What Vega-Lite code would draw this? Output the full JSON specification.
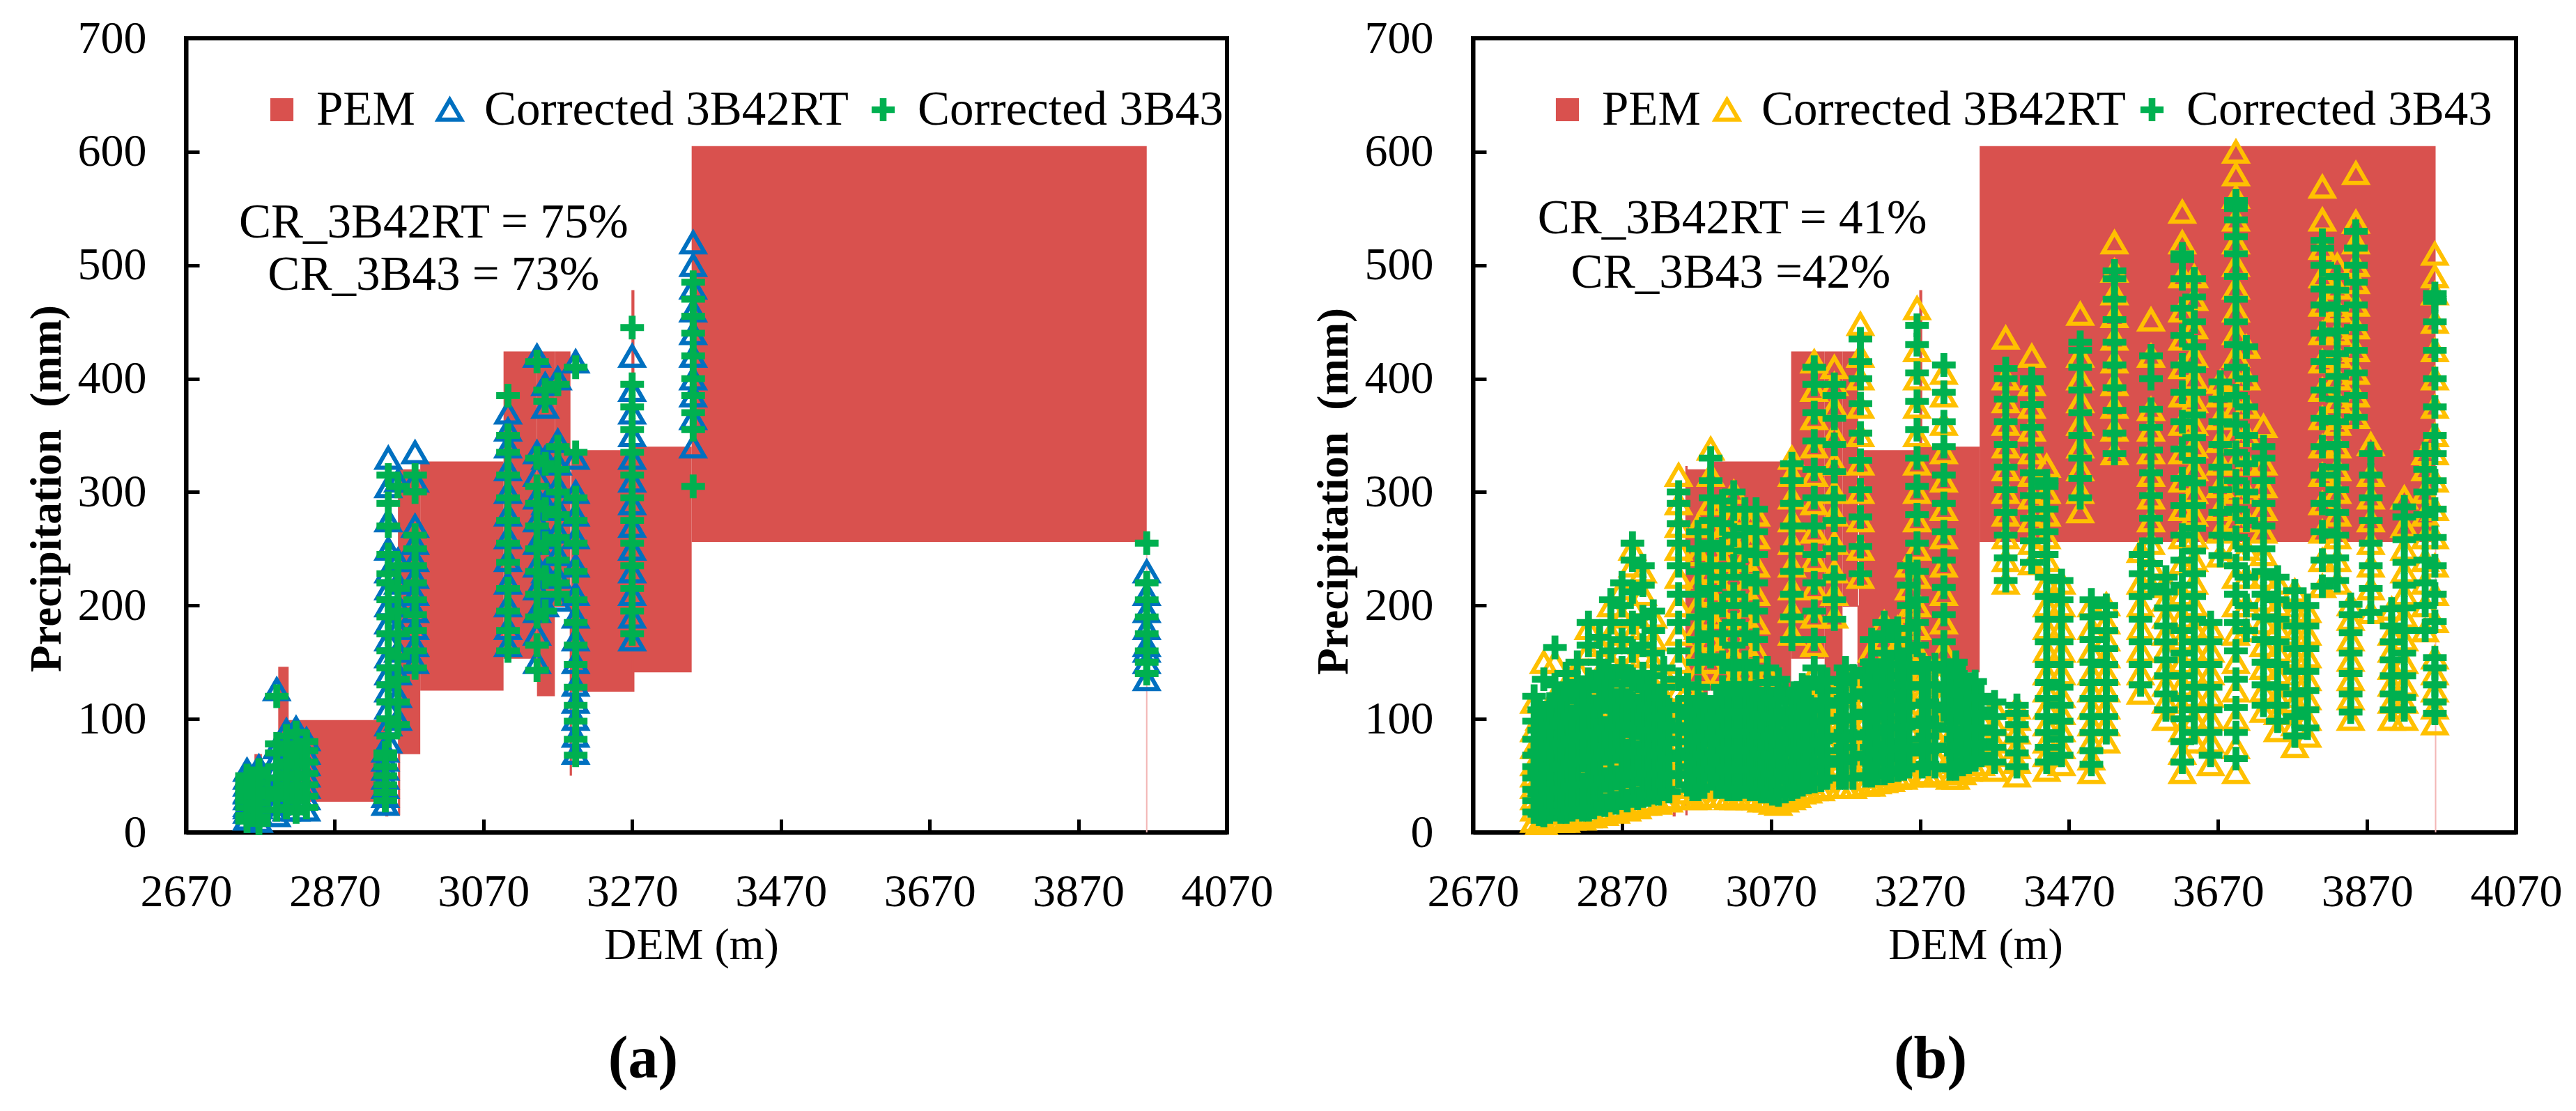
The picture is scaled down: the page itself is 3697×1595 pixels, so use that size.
{
  "$schema": "https://vega.github.io/schema/vega-lite/v6.json",
  "padding": {"left": 33, "top": 19, "right": 0, "bottom": 0},
  "background": "white",
  "spacing": 50,
  "config": {
    "font": "Liberation Serif",
    "view": {"stroke": "black", "strokeWidth": 6},
    "axis": {"grid": false, "domainColor": "black", "domainWidth": 6, "tickColor": "black", "tickWidth": 5, "tickSize": -19, "labelFont": "Liberation Serif", "labelFontSize": 66, "labelColor": "black", "labelFlush": false, "titleFont": "Liberation Serif", "titleColor": "black"},
    "axisX": {"labelPadding": 72, "titleFontSize": 64, "titleFontWeight": "normal", "titlePadding": 12},
    "axisY": {"labelPadding": 76, "titleFontSize": 63, "titleFontWeight": "bold", "titlePadding": 12},
    "legend": {
      "orient": "none", "legendY": 68, "direction": "horizontal", "title": null, "padding": 0,
      "labelFont": "Liberation Serif", "labelFontSize": 69, "labelColor": "black", "labelLimit": 2000, "labelOffset": 15,
      "symbolSize": 1100, "symbolStrokeWidth": 6, "symbolOpacity": 1
    }
  },
  "datasets": {
    "pem": [
      {"dem": 2762, "dem2": 2772, "lo": 20, "hi": 69},
      {"dem": 2794, "dem2": 2808, "lo": 25, "hi": 146},
      {"dem": 2808, "dem2": 2939, "lo": 27, "hi": 99},
      {"dem": 2938, "dem2": 2942, "lo": 14, "hi": 40},
      {"dem": 2955, "dem2": 2958, "lo": 15, "hi": 323},
      {"dem": 2957, "dem2": 2985, "lo": 69, "hi": 320},
      {"dem": 2985, "dem2": 3097, "lo": 125, "hi": 327},
      {"dem": 3097, "dem2": 3142, "lo": 153, "hi": 424},
      {"dem": 3142, "dem2": 3166, "lo": 120, "hi": 424},
      {"dem": 3166, "dem2": 3187, "lo": 199, "hi": 424},
      {"dem": 3186, "dem2": 3189, "lo": 50, "hi": 200},
      {"dem": 3188, "dem2": 3270, "lo": 124, "hi": 337},
      {"dem": 3269, "dem2": 3273, "lo": 124, "hi": 478},
      {"dem": 3272, "dem2": 3350, "lo": 141, "hi": 340},
      {"dem": 3350, "dem2": 3962, "lo": 256, "hi": 605}
    ],
    "edge": [{"dem": 3962, "lo": 0, "hi": 256}],
    "a": [
      {"dem":2752,"rt":12,"b43":10},{"dem":2752,"rt":18,"b43":15},{"dem":2752,"rt":24,"b43":22},{"dem":2752,"rt":30,"b43":28},{"dem":2752,"rt":36,"b43":33},{"dem":2752,"rt":42,"b43":40},{"dem":2752,"rt":48,"b43":45},{"dem":2752,"rt":55,"b43":50},{"dem":2752,"rt":22,"b43":28},{"dem":2752,"rt":35,"b43":38},
      {"dem":2768,"rt":10,"b43":8},{"dem":2768,"rt":16,"b43":14},{"dem":2768,"rt":22,"b43":20},{"dem":2768,"rt":28,"b43":26},{"dem":2768,"rt":34,"b43":32},{"dem":2768,"rt":40,"b43":38},{"dem":2768,"rt":46,"b43":44},{"dem":2768,"rt":52,"b43":50},{"dem":2768,"rt":58,"b43":55},
      {"dem":2792,"rt":15,"b43":20},{"dem":2792,"rt":25,"b43":30},{"dem":2792,"rt":35,"b43":38},{"dem":2792,"rt":45,"b43":48},{"dem":2792,"rt":55,"b43":58},{"dem":2792,"rt":65,"b43":70},{"dem":2792,"rt":75,"b43":78},{"dem":2792,"rt":126,"b43":120},{"dem":2792,"rt":40,"b43":35},
      {"dem":2805,"rt":20,"b43":22},{"dem":2805,"rt":30,"b43":32},{"dem":2805,"rt":40,"b43":42},{"dem":2805,"rt":50,"b43":52},{"dem":2805,"rt":60,"b43":62},{"dem":2805,"rt":70,"b43":72},{"dem":2805,"rt":80,"b43":78},{"dem":2805,"rt":90,"b43":85},
      {"dem":2818,"rt":20,"b43":18},{"dem":2818,"rt":30,"b43":28},{"dem":2818,"rt":40,"b43":38},{"dem":2818,"rt":50,"b43":48},{"dem":2818,"rt":60,"b43":58},{"dem":2818,"rt":70,"b43":68},{"dem":2818,"rt":80,"b43":76},{"dem":2818,"rt":92,"b43":88},
      {"dem":2832,"rt":20,"b43":22},{"dem":2832,"rt":30,"b43":32},{"dem":2832,"rt":40,"b43":42},{"dem":2832,"rt":50,"b43":52},{"dem":2832,"rt":60,"b43":62},{"dem":2832,"rt":70,"b43":72},{"dem":2832,"rt":82,"b43":80},
      {"dem":2938,"rt":25,"b43":28},{"dem":2938,"rt":32,"b43":35},{"dem":2938,"rt":40,"b43":42},{"dem":2938,"rt":48,"b43":50},{"dem":2938,"rt":56,"b43":58},{"dem":2938,"rt":64,"b43":66},{"dem":2938,"rt":72,"b43":70},
      {"dem":2942,"rt":80,"b43":85},{"dem":2942,"rt":95,"b43":100},{"dem":2942,"rt":110,"b43":115},{"dem":2942,"rt":125,"b43":130},{"dem":2942,"rt":140,"b43":145},{"dem":2942,"rt":155,"b43":160},{"dem":2942,"rt":170,"b43":175},{"dem":2942,"rt":185,"b43":190},{"dem":2942,"rt":200,"b43":205},{"dem":2942,"rt":215,"b43":220},{"dem":2942,"rt":230,"b43":228},{"dem":2942,"rt":250,"b43":245},{"dem":2942,"rt":275,"b43":270},{"dem":2942,"rt":305,"b43":290},{"dem":2942,"rt":330,"b43":315},
      {"dem":2955,"rt":100,"b43":95},{"dem":2955,"rt":120,"b43":115},{"dem":2955,"rt":140,"b43":135},{"dem":2955,"rt":160,"b43":155},{"dem":2955,"rt":180,"b43":175},{"dem":2955,"rt":200,"b43":195},{"dem":2955,"rt":220,"b43":215},{"dem":2955,"rt":240,"b43":235},{"dem":2955,"rt":310,"b43":305},
      {"dem":2978,"rt":150,"b43":145},{"dem":2978,"rt":165,"b43":160},{"dem":2978,"rt":180,"b43":178},{"dem":2978,"rt":195,"b43":192},{"dem":2978,"rt":210,"b43":205},{"dem":2978,"rt":225,"b43":220},{"dem":2978,"rt":240,"b43":235},{"dem":2978,"rt":255,"b43":250},{"dem":2978,"rt":270,"b43":262},{"dem":2978,"rt":310,"b43":300},{"dem":2978,"rt":335,"b43":315},
      {"dem":3103,"rt":165,"b43":160},{"dem":3103,"rt":180,"b43":178},{"dem":3103,"rt":200,"b43":195},{"dem":3103,"rt":220,"b43":215},{"dem":3103,"rt":240,"b43":238},{"dem":3103,"rt":260,"b43":255},{"dem":3103,"rt":280,"b43":275},{"dem":3103,"rt":300,"b43":295},{"dem":3103,"rt":320,"b43":315},{"dem":3103,"rt":340,"b43":335},{"dem":3103,"rt":355,"b43":350},{"dem":3103,"rt":370,"b43":385},
      {"dem":3142,"rt":150,"b43":143},{"dem":3142,"rt":175,"b43":165},{"dem":3142,"rt":195,"b43":190},{"dem":3142,"rt":215,"b43":210},{"dem":3142,"rt":235,"b43":230},{"dem":3142,"rt":255,"b43":250},{"dem":3142,"rt":275,"b43":270},{"dem":3142,"rt":295,"b43":290},{"dem":3142,"rt":315,"b43":305},{"dem":3142,"rt":335,"b43":330},{"dem":3142,"rt":420,"b43":415},
      {"dem":3153,"rt":200,"b43":195},{"dem":3153,"rt":230,"b43":225},{"dem":3153,"rt":260,"b43":255},{"dem":3153,"rt":290,"b43":285},{"dem":3153,"rt":330,"b43":325},{"dem":3153,"rt":375,"b43":380},{"dem":3153,"rt":395,"b43":390},
      {"dem":3170,"rt":205,"b43":210},{"dem":3170,"rt":225,"b43":220},{"dem":3170,"rt":245,"b43":240},{"dem":3170,"rt":265,"b43":260},{"dem":3170,"rt":285,"b43":280},{"dem":3170,"rt":305,"b43":300},{"dem":3170,"rt":325,"b43":320},{"dem":3170,"rt":345,"b43":340},{"dem":3170,"rt":400,"b43":395},
      {"dem":3194,"rt":70,"b43":68},{"dem":3194,"rt":85,"b43":82},{"dem":3194,"rt":100,"b43":98},{"dem":3194,"rt":115,"b43":112},{"dem":3194,"rt":130,"b43":128},{"dem":3194,"rt":150,"b43":148},{"dem":3194,"rt":170,"b43":165},{"dem":3194,"rt":190,"b43":185},{"dem":3194,"rt":210,"b43":205},{"dem":3194,"rt":235,"b43":230},{"dem":3194,"rt":260,"b43":255},{"dem":3194,"rt":280,"b43":275},{"dem":3194,"rt":300,"b43":295},{"dem":3194,"rt":330,"b43":335},{"dem":3194,"rt":415,"b43":410},
      {"dem":3270,"rt":170,"b43":175},{"dem":3270,"rt":190,"b43":195},{"dem":3270,"rt":210,"b43":215},{"dem":3270,"rt":230,"b43":235},{"dem":3270,"rt":250,"b43":255},{"dem":3270,"rt":270,"b43":275},{"dem":3270,"rt":290,"b43":295},{"dem":3270,"rt":310,"b43":315},{"dem":3270,"rt":330,"b43":335},{"dem":3270,"rt":350,"b43":355},{"dem":3270,"rt":370,"b43":375},{"dem":3270,"rt":390,"b43":395},{"dem":3270,"rt":420,"b43":445},
      {"dem":3352,"rt":340,"b43":305},{"dem":3352,"rt":365,"b43":355},{"dem":3352,"rt":385,"b43":370},{"dem":3352,"rt":400,"b43":385},{"dem":3352,"rt":420,"b43":400},{"dem":3352,"rt":440,"b43":420},{"dem":3352,"rt":460,"b43":440},{"dem":3352,"rt":480,"b43":455},{"dem":3352,"rt":500,"b43":470},{"dem":3352,"rt":520,"b43":485},
      {"dem":3962,"rt":135,"b43":140},{"dem":3962,"rt":150,"b43":150},{"dem":3962,"rt":165,"b43":160},{"dem":3962,"rt":180,"b43":175},{"dem":3962,"rt":195,"b43":190},{"dem":3962,"rt":210,"b43":205},{"dem":3962,"rt":230,"b43":220},{"dem":3962,"rt":160,"b43":255}
    ],
    "b": [
      {"dem":2752,"rt":10,"b43":18},{"dem":2752,"rt":20,"b43":28},{"dem":2752,"rt":30,"b43":38},{"dem":2752,"rt":40,"b43":48},{"dem":2752,"rt":50,"b43":58},{"dem":2752,"rt":60,"b43":68},{"dem":2752,"rt":75,"b43":82},{"dem":2752,"rt":90,"b43":98},{"dem":2752,"rt":115,"b43":120},
      {"dem":2765,"rt":8,"b43":15},{"dem":2765,"rt":18,"b43":25},{"dem":2765,"rt":28,"b43":35},{"dem":2765,"rt":38,"b43":45},{"dem":2765,"rt":48,"b43":55},{"dem":2765,"rt":60,"b43":66},{"dem":2765,"rt":72,"b43":80},{"dem":2765,"rt":85,"b43":95},{"dem":2765,"rt":150,"b43":135},
      {"dem":2780,"rt":12,"b43":20},{"dem":2780,"rt":22,"b43":30},{"dem":2780,"rt":32,"b43":40},{"dem":2780,"rt":42,"b43":50},{"dem":2780,"rt":55,"b43":62},{"dem":2780,"rt":68,"b43":75},{"dem":2780,"rt":82,"b43":90},{"dem":2780,"rt":100,"b43":110},{"dem":2780,"rt":120,"b43":130},{"dem":2780,"rt":150,"b43":163},
      {"dem":2795,"rt":10,"b43":18},{"dem":2795,"rt":22,"b43":30},{"dem":2795,"rt":34,"b43":42},{"dem":2795,"rt":46,"b43":54},{"dem":2795,"rt":58,"b43":66},{"dem":2795,"rt":70,"b43":78},{"dem":2795,"rt":85,"b43":92},{"dem":2795,"rt":100,"b43":108},{"dem":2795,"rt":115,"b43":122},{"dem":2795,"rt":130,"b43":140},
      {"dem":2810,"rt":15,"b43":22},{"dem":2810,"rt":25,"b43":32},{"dem":2810,"rt":35,"b43":45},{"dem":2810,"rt":50,"b43":58},{"dem":2810,"rt":65,"b43":72},{"dem":2810,"rt":80,"b43":88},{"dem":2810,"rt":95,"b43":102},{"dem":2810,"rt":110,"b43":118},{"dem":2810,"rt":125,"b43":132},{"dem":2810,"rt":145,"b43":150},
      {"dem":2825,"rt":14,"b43":20},{"dem":2825,"rt":26,"b43":32},{"dem":2825,"rt":38,"b43":44},{"dem":2825,"rt":50,"b43":56},{"dem":2825,"rt":62,"b43":70},{"dem":2825,"rt":76,"b43":84},{"dem":2825,"rt":90,"b43":98},{"dem":2825,"rt":105,"b43":115},{"dem":2825,"rt":125,"b43":135},{"dem":2825,"rt":160,"b43":165},{"dem":2825,"rt":180,"b43":185},
      {"dem":2840,"rt":18,"b43":25},{"dem":2840,"rt":30,"b43":38},{"dem":2840,"rt":42,"b43":50},{"dem":2840,"rt":55,"b43":62},{"dem":2840,"rt":70,"b43":78},{"dem":2840,"rt":85,"b43":92},{"dem":2840,"rt":100,"b43":108},{"dem":2840,"rt":120,"b43":128},{"dem":2840,"rt":140,"b43":150},{"dem":2840,"rt":165,"b43":172},
      {"dem":2855,"rt":20,"b43":28},{"dem":2855,"rt":32,"b43":40},{"dem":2855,"rt":45,"b43":52},{"dem":2855,"rt":60,"b43":68},{"dem":2855,"rt":75,"b43":82},{"dem":2855,"rt":90,"b43":98},{"dem":2855,"rt":110,"b43":118},{"dem":2855,"rt":130,"b43":138},{"dem":2855,"rt":150,"b43":160},{"dem":2855,"rt":175,"b43":185},{"dem":2855,"rt":200,"b43":205},
      {"dem":2870,"rt":22,"b43":30},{"dem":2870,"rt":35,"b43":42},{"dem":2870,"rt":48,"b43":56},{"dem":2870,"rt":62,"b43":70},{"dem":2870,"rt":78,"b43":86},{"dem":2870,"rt":95,"b43":104},{"dem":2870,"rt":115,"b43":124},{"dem":2870,"rt":135,"b43":145},{"dem":2870,"rt":160,"b43":170},{"dem":2870,"rt":190,"b43":200},{"dem":2870,"rt":215,"b43":220},
      {"dem":2884,"rt":25,"b43":32},{"dem":2884,"rt":38,"b43":45},{"dem":2884,"rt":52,"b43":60},{"dem":2884,"rt":68,"b43":76},{"dem":2884,"rt":85,"b43":94},{"dem":2884,"rt":105,"b43":114},{"dem":2884,"rt":125,"b43":135},{"dem":2884,"rt":150,"b43":160},{"dem":2884,"rt":175,"b43":185},{"dem":2884,"rt":200,"b43":212},{"dem":2884,"rt":235,"b43":240},{"dem":2884,"rt":250,"b43":255},
      {"dem":2898,"rt":25,"b43":32},{"dem":2898,"rt":40,"b43":48},{"dem":2898,"rt":55,"b43":62},{"dem":2898,"rt":70,"b43":78},{"dem":2898,"rt":88,"b43":96},{"dem":2898,"rt":108,"b43":116},{"dem":2898,"rt":130,"b43":140},{"dem":2898,"rt":155,"b43":165},{"dem":2898,"rt":180,"b43":190},{"dem":2898,"rt":210,"b43":218},{"dem":2898,"rt":230,"b43":235},
      {"dem":2912,"rt":28,"b43":35},{"dem":2912,"rt":42,"b43":50},{"dem":2912,"rt":58,"b43":66},{"dem":2912,"rt":75,"b43":82},{"dem":2912,"rt":92,"b43":100},{"dem":2912,"rt":110,"b43":118},{"dem":2912,"rt":130,"b43":138},{"dem":2912,"rt":150,"b43":158},{"dem":2912,"rt":170,"b43":178},{"dem":2912,"rt":190,"b43":195},
      {"dem":2926,"rt":30,"b43":38},{"dem":2926,"rt":45,"b43":52},{"dem":2926,"rt":60,"b43":68},{"dem":2926,"rt":75,"b43":82},{"dem":2926,"rt":90,"b43":98},{"dem":2926,"rt":105,"b43":112},{"dem":2926,"rt":120,"b43":128},{"dem":2926,"rt":140,"b43":145},
      {"dem":2946,"rt":40,"b43":50},{"dem":2946,"rt":60,"b43":70},{"dem":2946,"rt":80,"b43":90},{"dem":2946,"rt":100,"b43":110},{"dem":2946,"rt":125,"b43":135},{"dem":2946,"rt":150,"b43":160},{"dem":2946,"rt":175,"b43":185},{"dem":2946,"rt":200,"b43":210},{"dem":2946,"rt":225,"b43":235},{"dem":2946,"rt":250,"b43":255},{"dem":2946,"rt":270,"b43":272},{"dem":2946,"rt":290,"b43":290},{"dem":2946,"rt":315,"b43":300},
      {"dem":2958,"rt":35,"b43":42},{"dem":2958,"rt":50,"b43":58},{"dem":2958,"rt":65,"b43":72},{"dem":2958,"rt":80,"b43":88},{"dem":2958,"rt":95,"b43":102},{"dem":2958,"rt":110,"b43":118},{"dem":2958,"rt":125,"b43":130},
      {"dem":2972,"rt":30,"b43":38},{"dem":2972,"rt":45,"b43":52},{"dem":2972,"rt":60,"b43":68},{"dem":2972,"rt":75,"b43":82},{"dem":2972,"rt":90,"b43":98},{"dem":2972,"rt":105,"b43":112},{"dem":2972,"rt":120,"b43":128},{"dem":2972,"rt":140,"b43":150},{"dem":2972,"rt":160,"b43":170},{"dem":2972,"rt":180,"b43":190},{"dem":2972,"rt":200,"b43":210},{"dem":2972,"rt":220,"b43":230},{"dem":2972,"rt":245,"b43":250},{"dem":2972,"rt":270,"b43":265},
      {"dem":2989,"rt":40,"b43":48},{"dem":2989,"rt":55,"b43":62},{"dem":2989,"rt":70,"b43":78},{"dem":2989,"rt":85,"b43":92},{"dem":2989,"rt":100,"b43":108},{"dem":2989,"rt":150,"b43":155},{"dem":2989,"rt":170,"b43":175},{"dem":2989,"rt":190,"b43":195},{"dem":2989,"rt":210,"b43":215},{"dem":2989,"rt":230,"b43":235},{"dem":2989,"rt":250,"b43":255},{"dem":2989,"rt":270,"b43":275},{"dem":2989,"rt":290,"b43":295},{"dem":2989,"rt":315,"b43":310},{"dem":2989,"rt":338,"b43":330},
      {"dem":3005,"rt":32,"b43":40},{"dem":3005,"rt":45,"b43":52},{"dem":3005,"rt":60,"b43":68},{"dem":3005,"rt":75,"b43":82},{"dem":3005,"rt":90,"b43":98},{"dem":3005,"rt":105,"b43":112},{"dem":3005,"rt":120,"b43":128},{"dem":3005,"rt":140,"b43":150},{"dem":3005,"rt":165,"b43":175},{"dem":3005,"rt":190,"b43":200},{"dem":3005,"rt":215,"b43":225},{"dem":3005,"rt":240,"b43":250},{"dem":3005,"rt":265,"b43":272},{"dem":3005,"rt":290,"b43":292},
      {"dem":3020,"rt":30,"b43":38},{"dem":3020,"rt":42,"b43":50},{"dem":3020,"rt":56,"b43":64},{"dem":3020,"rt":70,"b43":78},{"dem":3020,"rt":85,"b43":92},{"dem":3020,"rt":100,"b43":108},{"dem":3020,"rt":118,"b43":126},{"dem":3020,"rt":135,"b43":145},{"dem":3020,"rt":155,"b43":165},{"dem":3020,"rt":175,"b43":185},{"dem":3020,"rt":200,"b43":210},{"dem":3020,"rt":225,"b43":235},{"dem":3020,"rt":255,"b43":262},{"dem":3020,"rt":280,"b43":285},{"dem":3020,"rt":300,"b43":300},
      {"dem":3035,"rt":32,"b43":40},{"dem":3035,"rt":45,"b43":52},{"dem":3035,"rt":58,"b43":66},{"dem":3035,"rt":72,"b43":80},{"dem":3035,"rt":88,"b43":96},{"dem":3035,"rt":104,"b43":112},{"dem":3035,"rt":120,"b43":130},{"dem":3035,"rt":140,"b43":150},{"dem":3035,"rt":165,"b43":175},{"dem":3035,"rt":190,"b43":200},{"dem":3035,"rt":215,"b43":225},{"dem":3035,"rt":240,"b43":248},{"dem":3035,"rt":260,"b43":268},{"dem":3035,"rt":280,"b43":285},
      {"dem":3050,"rt":30,"b43":38},{"dem":3050,"rt":42,"b43":50},{"dem":3050,"rt":55,"b43":62},{"dem":3050,"rt":70,"b43":78},{"dem":3050,"rt":85,"b43":92},{"dem":3050,"rt":100,"b43":108},{"dem":3050,"rt":115,"b43":124},{"dem":3050,"rt":135,"b43":145},{"dem":3050,"rt":160,"b43":170},{"dem":3050,"rt":185,"b43":195},{"dem":3050,"rt":210,"b43":220},{"dem":3050,"rt":235,"b43":245},{"dem":3050,"rt":260,"b43":265},{"dem":3050,"rt":280,"b43":285},
      {"dem":3065,"rt":28,"b43":36},{"dem":3065,"rt":40,"b43":48},{"dem":3065,"rt":52,"b43":60},{"dem":3065,"rt":65,"b43":74},{"dem":3065,"rt":80,"b43":88},{"dem":3065,"rt":95,"b43":102},{"dem":3065,"rt":110,"b43":118},{"dem":3065,"rt":125,"b43":132},{"dem":3065,"rt":140,"b43":145},
      {"dem":3080,"rt":25,"b43":33},{"dem":3080,"rt":38,"b43":46},{"dem":3080,"rt":50,"b43":58},{"dem":3080,"rt":62,"b43":70},{"dem":3080,"rt":75,"b43":84},{"dem":3080,"rt":88,"b43":96},{"dem":3080,"rt":100,"b43":108},{"dem":3080,"rt":115,"b43":122},{"dem":3080,"rt":130,"b43":135},
      {"dem":3098,"rt":30,"b43":38},{"dem":3098,"rt":42,"b43":50},{"dem":3098,"rt":55,"b43":62},{"dem":3098,"rt":68,"b43":76},{"dem":3098,"rt":80,"b43":88},{"dem":3098,"rt":95,"b43":102},{"dem":3098,"rt":110,"b43":118},{"dem":3098,"rt":175,"b43":170},{"dem":3098,"rt":195,"b43":190},{"dem":3098,"rt":215,"b43":210},{"dem":3098,"rt":235,"b43":230},{"dem":3098,"rt":255,"b43":250},{"dem":3098,"rt":275,"b43":270},{"dem":3098,"rt":295,"b43":290},{"dem":3098,"rt":315,"b43":310},{"dem":3098,"rt":330,"b43":325},
      {"dem":3112,"rt":35,"b43":42},{"dem":3112,"rt":48,"b43":55},{"dem":3112,"rt":60,"b43":68},{"dem":3112,"rt":72,"b43":80},{"dem":3112,"rt":85,"b43":92},{"dem":3112,"rt":98,"b43":105},{"dem":3112,"rt":110,"b43":118},{"dem":3112,"rt":125,"b43":130},
      {"dem":3128,"rt":38,"b43":45},{"dem":3128,"rt":50,"b43":58},{"dem":3128,"rt":62,"b43":70},{"dem":3128,"rt":75,"b43":82},{"dem":3128,"rt":88,"b43":95},{"dem":3128,"rt":100,"b43":108},{"dem":3128,"rt":140,"b43":145},{"dem":3128,"rt":165,"b43":170},{"dem":3128,"rt":190,"b43":195},{"dem":3128,"rt":215,"b43":220},{"dem":3128,"rt":240,"b43":245},{"dem":3128,"rt":265,"b43":270},{"dem":3128,"rt":290,"b43":295},{"dem":3128,"rt":315,"b43":320},{"dem":3128,"rt":340,"b43":345},{"dem":3128,"rt":365,"b43":370},{"dem":3128,"rt":390,"b43":395},{"dem":3128,"rt":415,"b43":410},
      {"dem":3145,"rt":40,"b43":48},{"dem":3145,"rt":52,"b43":60},{"dem":3145,"rt":65,"b43":72},{"dem":3145,"rt":78,"b43":85},{"dem":3145,"rt":90,"b43":98},{"dem":3145,"rt":105,"b43":112},{"dem":3145,"rt":120,"b43":125},{"dem":3145,"rt":130,"b43":135},
      {"dem":3155,"rt":190,"b43":188},{"dem":3155,"rt":210,"b43":205},{"dem":3155,"rt":230,"b43":225},{"dem":3155,"rt":255,"b43":250},{"dem":3155,"rt":280,"b43":275},{"dem":3155,"rt":300,"b43":295},{"dem":3155,"rt":325,"b43":318},{"dem":3155,"rt":350,"b43":342},{"dem":3155,"rt":375,"b43":365},{"dem":3155,"rt":395,"b43":385},{"dem":3155,"rt":410,"b43":395},
      {"dem":3170,"rt":40,"b43":48},{"dem":3170,"rt":55,"b43":62},{"dem":3170,"rt":68,"b43":75},{"dem":3170,"rt":80,"b43":88},{"dem":3170,"rt":95,"b43":102},{"dem":3170,"rt":110,"b43":118},{"dem":3170,"rt":125,"b43":132},{"dem":3170,"rt":140,"b43":145},
      {"dem":3190,"rt":225,"b43":228},{"dem":3190,"rt":250,"b43":252},{"dem":3190,"rt":275,"b43":278},{"dem":3190,"rt":300,"b43":302},{"dem":3190,"rt":325,"b43":328},{"dem":3190,"rt":350,"b43":352},{"dem":3190,"rt":375,"b43":378},{"dem":3190,"rt":400,"b43":400},{"dem":3190,"rt":420,"b43":415},{"dem":3190,"rt":448,"b43":435},
      {"dem":3205,"rt":42,"b43":50},{"dem":3205,"rt":55,"b43":62},{"dem":3205,"rt":68,"b43":75},{"dem":3205,"rt":80,"b43":88},{"dem":3205,"rt":95,"b43":102},{"dem":3205,"rt":110,"b43":118},{"dem":3205,"rt":125,"b43":132},{"dem":3205,"rt":140,"b43":150},{"dem":3205,"rt":160,"b43":170},
      {"dem":3222,"rt":45,"b43":52},{"dem":3222,"rt":58,"b43":65},{"dem":3222,"rt":70,"b43":78},{"dem":3222,"rt":85,"b43":92},{"dem":3222,"rt":100,"b43":108},{"dem":3222,"rt":115,"b43":122},{"dem":3222,"rt":130,"b43":138},{"dem":3222,"rt":150,"b43":158},{"dem":3222,"rt":170,"b43":175},{"dem":3222,"rt":185,"b43":185},
      {"dem":3240,"rt":48,"b43":55},{"dem":3240,"rt":60,"b43":68},{"dem":3240,"rt":72,"b43":80},{"dem":3240,"rt":85,"b43":92},{"dem":3240,"rt":100,"b43":108},{"dem":3240,"rt":115,"b43":122},{"dem":3240,"rt":130,"b43":138},{"dem":3240,"rt":150,"b43":155},{"dem":3240,"rt":165,"b43":170},{"dem":3240,"rt":180,"b43":180},
      {"dem":3255,"rt":50,"b43":58},{"dem":3255,"rt":62,"b43":70},{"dem":3255,"rt":75,"b43":82},{"dem":3255,"rt":90,"b43":98},{"dem":3255,"rt":105,"b43":112},{"dem":3255,"rt":120,"b43":128},{"dem":3255,"rt":135,"b43":142},{"dem":3255,"rt":155,"b43":160},{"dem":3255,"rt":175,"b43":180},{"dem":3255,"rt":195,"b43":200},{"dem":3255,"rt":215,"b43":218},{"dem":3255,"rt":235,"b43":235},
      {"dem":3266,"rt":160,"b43":165},{"dem":3266,"rt":180,"b43":185},{"dem":3266,"rt":200,"b43":205},{"dem":3266,"rt":225,"b43":230},{"dem":3266,"rt":250,"b43":255},{"dem":3266,"rt":275,"b43":280},{"dem":3266,"rt":300,"b43":305},{"dem":3266,"rt":325,"b43":330},{"dem":3266,"rt":350,"b43":355},{"dem":3266,"rt":375,"b43":380},{"dem":3266,"rt":400,"b43":405},{"dem":3266,"rt":425,"b43":430},{"dem":3266,"rt":462,"b43":447},
      {"dem":3280,"rt":52,"b43":60},{"dem":3280,"rt":65,"b43":72},{"dem":3280,"rt":78,"b43":85},{"dem":3280,"rt":92,"b43":100},{"dem":3280,"rt":108,"b43":115},{"dem":3280,"rt":122,"b43":130},{"dem":3280,"rt":140,"b43":145},
      {"dem":3302,"rt":100,"b43":108},{"dem":3302,"rt":120,"b43":128},{"dem":3302,"rt":140,"b43":148},{"dem":3302,"rt":160,"b43":168},{"dem":3302,"rt":185,"b43":192},{"dem":3302,"rt":210,"b43":216},{"dem":3302,"rt":235,"b43":240},{"dem":3302,"rt":260,"b43":265},{"dem":3302,"rt":285,"b43":290},{"dem":3302,"rt":310,"b43":315},{"dem":3302,"rt":335,"b43":340},{"dem":3302,"rt":360,"b43":362},{"dem":3302,"rt":385,"b43":388},{"dem":3302,"rt":405,"b43":412},
      {"dem":3318,"rt":48,"b43":56},{"dem":3318,"rt":62,"b43":70},{"dem":3318,"rt":75,"b43":82},{"dem":3318,"rt":90,"b43":98},{"dem":3318,"rt":105,"b43":112},{"dem":3318,"rt":120,"b43":128},{"dem":3318,"rt":135,"b43":140},{"dem":3318,"rt":145,"b43":150},
      {"dem":3335,"rt":55,"b43":62},{"dem":3335,"rt":68,"b43":75},{"dem":3335,"rt":80,"b43":88},{"dem":3335,"rt":95,"b43":102},{"dem":3335,"rt":110,"b43":118},{"dem":3335,"rt":125,"b43":130},
      {"dem":3352,"rt":60,"b43":68},{"dem":3352,"rt":72,"b43":80},{"dem":3352,"rt":85,"b43":92},{"dem":3352,"rt":100,"b43":108},{"dem":3352,"rt":115,"b43":120},
      {"dem":3370,"rt":55,"b43":62},{"dem":3370,"rt":68,"b43":75},{"dem":3370,"rt":80,"b43":88},{"dem":3370,"rt":95,"b43":102},{"dem":3370,"rt":110,"b43":115},
      {"dem":3385,"rt":220,"b43":222},{"dem":3385,"rt":240,"b43":242},{"dem":3385,"rt":260,"b43":262},{"dem":3385,"rt":280,"b43":282},{"dem":3385,"rt":300,"b43":302},{"dem":3385,"rt":320,"b43":322},{"dem":3385,"rt":340,"b43":342},{"dem":3385,"rt":360,"b43":362},{"dem":3385,"rt":380,"b43":382},{"dem":3385,"rt":400,"b43":400},{"dem":3385,"rt":436,"b43":409},
      {"dem":3400,"rt":50,"b43":58},{"dem":3400,"rt":62,"b43":70},{"dem":3400,"rt":75,"b43":82},{"dem":3400,"rt":88,"b43":95},{"dem":3400,"rt":100,"b43":105},{"dem":3400,"rt":110,"b43":112},
      {"dem":3420,"rt":237,"b43":238},{"dem":3420,"rt":255,"b43":257},{"dem":3420,"rt":275,"b43":277},{"dem":3420,"rt":295,"b43":297},{"dem":3420,"rt":315,"b43":317},{"dem":3420,"rt":335,"b43":337},{"dem":3420,"rt":355,"b43":357},{"dem":3420,"rt":375,"b43":377},{"dem":3420,"rt":395,"b43":397},{"dem":3420,"rt":420,"b43":400},
      {"dem":3440,"rt":55,"b43":62},{"dem":3440,"rt":68,"b43":75},{"dem":3440,"rt":80,"b43":88},{"dem":3440,"rt":95,"b43":102},{"dem":3440,"rt":110,"b43":118},{"dem":3440,"rt":125,"b43":132},{"dem":3440,"rt":140,"b43":148},{"dem":3440,"rt":160,"b43":168},{"dem":3440,"rt":180,"b43":188},{"dem":3440,"rt":200,"b43":208},{"dem":3440,"rt":220,"b43":225},{"dem":3440,"rt":240,"b43":245},{"dem":3440,"rt":260,"b43":265},{"dem":3440,"rt":280,"b43":285},{"dem":3440,"rt":300,"b43":305},{"dem":3440,"rt":323,"b43":310},
      {"dem":3460,"rt":60,"b43":68},{"dem":3460,"rt":75,"b43":82},{"dem":3460,"rt":90,"b43":98},{"dem":3460,"rt":105,"b43":112},{"dem":3460,"rt":120,"b43":128},{"dem":3460,"rt":140,"b43":148},{"dem":3460,"rt":160,"b43":168},{"dem":3460,"rt":180,"b43":188},{"dem":3460,"rt":200,"b43":205},{"dem":3460,"rt":220,"b43":222},
      {"dem":3485,"rt":283,"b43":295},{"dem":3485,"rt":300,"b43":312},{"dem":3485,"rt":320,"b43":330},{"dem":3485,"rt":340,"b43":350},{"dem":3485,"rt":360,"b43":370},{"dem":3485,"rt":380,"b43":390},{"dem":3485,"rt":400,"b43":410},{"dem":3485,"rt":420,"b43":425},{"dem":3485,"rt":457,"b43":432},
      {"dem":3500,"rt":53,"b43":60},{"dem":3500,"rt":65,"b43":72},{"dem":3500,"rt":80,"b43":88},{"dem":3500,"rt":95,"b43":102},{"dem":3500,"rt":110,"b43":118},{"dem":3500,"rt":125,"b43":132},{"dem":3500,"rt":140,"b43":150},{"dem":3500,"rt":160,"b43":170},{"dem":3500,"rt":180,"b43":190},{"dem":3500,"rt":200,"b43":205},
      {"dem":3520,"rt":80,"b43":88},{"dem":3520,"rt":95,"b43":102},{"dem":3520,"rt":110,"b43":118},{"dem":3520,"rt":125,"b43":132},{"dem":3520,"rt":140,"b43":148},{"dem":3520,"rt":155,"b43":162},{"dem":3520,"rt":170,"b43":178},{"dem":3520,"rt":185,"b43":192},{"dem":3520,"rt":201,"b43":200},
      {"dem":3531,"rt":334,"b43":334},{"dem":3531,"rt":355,"b43":352},{"dem":3531,"rt":375,"b43":372},{"dem":3531,"rt":395,"b43":392},{"dem":3531,"rt":415,"b43":412},{"dem":3531,"rt":435,"b43":432},{"dem":3531,"rt":455,"b43":452},{"dem":3531,"rt":475,"b43":470},{"dem":3531,"rt":495,"b43":488},{"dem":3531,"rt":520,"b43":495},
      {"dem":3566,"rt":123,"b43":130},{"dem":3566,"rt":140,"b43":148},{"dem":3566,"rt":160,"b43":168},{"dem":3566,"rt":180,"b43":188},{"dem":3566,"rt":200,"b43":208},{"dem":3566,"rt":220,"b43":228},{"dem":3566,"rt":248,"b43":245},
      {"dem":3580,"rt":217,"b43":217},{"dem":3580,"rt":235,"b43":237},{"dem":3580,"rt":255,"b43":257},{"dem":3580,"rt":275,"b43":277},{"dem":3580,"rt":295,"b43":297},{"dem":3580,"rt":315,"b43":317},{"dem":3580,"rt":335,"b43":337},{"dem":3580,"rt":355,"b43":357},{"dem":3580,"rt":373,"b43":373},{"dem":3580,"rt":420,"b43":400},{"dem":3580,"rt":452,"b43":420},
      {"dem":3600,"rt":100,"b43":108},{"dem":3600,"rt":115,"b43":122},{"dem":3600,"rt":130,"b43":138},{"dem":3600,"rt":145,"b43":152},{"dem":3600,"rt":160,"b43":168},{"dem":3600,"rt":175,"b43":182},{"dem":3600,"rt":190,"b43":198},{"dem":3600,"rt":205,"b43":212},{"dem":3600,"rt":220,"b43":225},
      {"dem":3622,"rt":53,"b43":62},{"dem":3622,"rt":70,"b43":80},{"dem":3622,"rt":90,"b43":100},{"dem":3622,"rt":110,"b43":118},{"dem":3622,"rt":130,"b43":138},{"dem":3622,"rt":150,"b43":158},{"dem":3622,"rt":170,"b43":178},{"dem":3622,"rt":190,"b43":198},{"dem":3622,"rt":210,"b43":218},{"dem":3622,"rt":237,"b43":240},{"dem":3622,"rt":260,"b43":262},{"dem":3622,"rt":285,"b43":288},{"dem":3622,"rt":310,"b43":312},{"dem":3622,"rt":335,"b43":338},{"dem":3622,"rt":360,"b43":362},{"dem":3622,"rt":385,"b43":388},{"dem":3622,"rt":410,"b43":412},{"dem":3622,"rt":435,"b43":438},{"dem":3622,"rt":460,"b43":462},{"dem":3622,"rt":490,"b43":488},{"dem":3622,"rt":520,"b43":505},{"dem":3622,"rt":547,"b43":510},
      {"dem":3638,"rt":80,"b43":88},{"dem":3638,"rt":100,"b43":108},{"dem":3638,"rt":120,"b43":128},{"dem":3638,"rt":140,"b43":148},{"dem":3638,"rt":160,"b43":168},{"dem":3638,"rt":180,"b43":188},{"dem":3638,"rt":200,"b43":208},{"dem":3638,"rt":220,"b43":228},{"dem":3638,"rt":240,"b43":248},{"dem":3638,"rt":260,"b43":268},{"dem":3638,"rt":280,"b43":288},{"dem":3638,"rt":300,"b43":308},{"dem":3638,"rt":320,"b43":328},{"dem":3638,"rt":340,"b43":348},{"dem":3638,"rt":360,"b43":368},{"dem":3638,"rt":380,"b43":388},{"dem":3638,"rt":400,"b43":408},{"dem":3638,"rt":420,"b43":428},{"dem":3638,"rt":445,"b43":450},{"dem":3638,"rt":470,"b43":472},{"dem":3638,"rt":490,"b43":488},
      {"dem":3660,"rt":60,"b43":68},{"dem":3660,"rt":80,"b43":88},{"dem":3660,"rt":100,"b43":108},{"dem":3660,"rt":120,"b43":128},{"dem":3660,"rt":140,"b43":148},{"dem":3660,"rt":160,"b43":168},{"dem":3660,"rt":180,"b43":185},
      {"dem":3673,"rt":244,"b43":244},{"dem":3673,"rt":265,"b43":262},{"dem":3673,"rt":285,"b43":282},{"dem":3673,"rt":305,"b43":302},{"dem":3673,"rt":325,"b43":322},{"dem":3673,"rt":345,"b43":342},{"dem":3673,"rt":365,"b43":362},{"dem":3673,"rt":385,"b43":382},{"dem":3673,"rt":397,"b43":397},
      {"dem":3694,"rt":53,"b43":65},{"dem":3694,"rt":75,"b43":88},{"dem":3694,"rt":100,"b43":110},{"dem":3694,"rt":125,"b43":135},{"dem":3694,"rt":150,"b43":160},{"dem":3694,"rt":175,"b43":185},{"dem":3694,"rt":200,"b43":210},{"dem":3694,"rt":225,"b43":235},{"dem":3694,"rt":250,"b43":260},{"dem":3694,"rt":275,"b43":285},{"dem":3694,"rt":300,"b43":310},{"dem":3694,"rt":325,"b43":335},{"dem":3694,"rt":350,"b43":360},{"dem":3694,"rt":375,"b43":385},{"dem":3694,"rt":400,"b43":410},{"dem":3694,"rt":420,"b43":430},{"dem":3694,"rt":440,"b43":450},{"dem":3694,"rt":460,"b43":470},{"dem":3694,"rt":480,"b43":490},{"dem":3694,"rt":500,"b43":510},{"dem":3694,"rt":520,"b43":525},{"dem":3694,"rt":540,"b43":540},{"dem":3694,"rt":560,"b43":550},{"dem":3694,"rt":580,"b43":557},{"dem":3694,"rt":600,"b43":555},
      {"dem":3708,"rt":178,"b43":178},{"dem":3708,"rt":200,"b43":200},{"dem":3708,"rt":225,"b43":225},{"dem":3708,"rt":250,"b43":250},{"dem":3708,"rt":275,"b43":275},{"dem":3708,"rt":300,"b43":300},{"dem":3708,"rt":325,"b43":325},{"dem":3708,"rt":350,"b43":350},{"dem":3708,"rt":375,"b43":375},{"dem":3708,"rt":400,"b43":400},{"dem":3708,"rt":428,"b43":428},
      {"dem":3731,"rt":107,"b43":112},{"dem":3731,"rt":125,"b43":130},{"dem":3731,"rt":145,"b43":150},{"dem":3731,"rt":165,"b43":170},{"dem":3731,"rt":185,"b43":190},{"dem":3731,"rt":205,"b43":210},{"dem":3731,"rt":225,"b43":230},{"dem":3731,"rt":245,"b43":250},{"dem":3731,"rt":265,"b43":270},{"dem":3731,"rt":285,"b43":290},{"dem":3731,"rt":305,"b43":310},{"dem":3731,"rt":325,"b43":330},{"dem":3731,"rt":358,"b43":340},
      {"dem":3750,"rt":90,"b43":98},{"dem":3750,"rt":105,"b43":112},{"dem":3750,"rt":120,"b43":128},{"dem":3750,"rt":140,"b43":148},{"dem":3750,"rt":160,"b43":168},{"dem":3750,"rt":180,"b43":188},{"dem":3750,"rt":200,"b43":205},{"dem":3750,"rt":220,"b43":225},
      {"dem":3773,"rt":76,"b43":85},{"dem":3773,"rt":95,"b43":102},{"dem":3773,"rt":115,"b43":122},{"dem":3773,"rt":135,"b43":142},{"dem":3773,"rt":155,"b43":162},{"dem":3773,"rt":175,"b43":182},{"dem":3773,"rt":195,"b43":200},{"dem":3773,"rt":213,"b43":213},
      {"dem":3790,"rt":85,"b43":92},{"dem":3790,"rt":100,"b43":108},{"dem":3790,"rt":118,"b43":125},{"dem":3790,"rt":135,"b43":142},{"dem":3790,"rt":155,"b43":162},{"dem":3790,"rt":175,"b43":182},{"dem":3790,"rt":195,"b43":200},
      {"dem":3810,"rt":217,"b43":217},{"dem":3810,"rt":240,"b43":240},{"dem":3810,"rt":265,"b43":265},{"dem":3810,"rt":290,"b43":290},{"dem":3810,"rt":315,"b43":315},{"dem":3810,"rt":340,"b43":340},{"dem":3810,"rt":365,"b43":365},{"dem":3810,"rt":390,"b43":390},{"dem":3810,"rt":415,"b43":415},{"dem":3810,"rt":440,"b43":440},{"dem":3810,"rt":465,"b43":465},{"dem":3810,"rt":490,"b43":479},{"dem":3810,"rt":515,"b43":500},{"dem":3810,"rt":540,"b43":515},{"dem":3810,"rt":569,"b43":522},
      {"dem":3830,"rt":220,"b43":222},{"dem":3830,"rt":240,"b43":242},{"dem":3830,"rt":260,"b43":262},{"dem":3830,"rt":280,"b43":282},{"dem":3830,"rt":300,"b43":302},{"dem":3830,"rt":320,"b43":322},{"dem":3830,"rt":340,"b43":342},{"dem":3830,"rt":360,"b43":362},{"dem":3830,"rt":380,"b43":382},{"dem":3830,"rt":400,"b43":402},{"dem":3830,"rt":420,"b43":422},{"dem":3830,"rt":440,"b43":442},{"dem":3830,"rt":460,"b43":462},{"dem":3830,"rt":480,"b43":478},{"dem":3830,"rt":500,"b43":490},
      {"dem":3848,"rt":100,"b43":106},{"dem":3848,"rt":118,"b43":122},{"dem":3848,"rt":135,"b43":140},{"dem":3848,"rt":152,"b43":158},{"dem":3848,"rt":170,"b43":176},{"dem":3848,"rt":188,"b43":192},{"dem":3848,"rt":201,"b43":201},
      {"dem":3855,"rt":366,"b43":366},{"dem":3855,"rt":385,"b43":385},{"dem":3855,"rt":405,"b43":405},{"dem":3855,"rt":425,"b43":425},{"dem":3855,"rt":445,"b43":445},{"dem":3855,"rt":465,"b43":465},{"dem":3855,"rt":485,"b43":485},{"dem":3855,"rt":500,"b43":500},{"dem":3855,"rt":520,"b43":515},{"dem":3855,"rt":538,"b43":530},{"dem":3855,"rt":581,"b43":530},
      {"dem":3875,"rt":194,"b43":194},{"dem":3875,"rt":215,"b43":215},{"dem":3875,"rt":235,"b43":235},{"dem":3875,"rt":255,"b43":255},{"dem":3875,"rt":275,"b43":275},{"dem":3875,"rt":295,"b43":295},{"dem":3875,"rt":315,"b43":315},{"dem":3875,"rt":342,"b43":334},
      {"dem":3903,"rt":100,"b43":108},{"dem":3903,"rt":115,"b43":122},{"dem":3903,"rt":130,"b43":138},{"dem":3903,"rt":145,"b43":152},{"dem":3903,"rt":160,"b43":168},{"dem":3903,"rt":175,"b43":182},{"dem":3903,"rt":197,"b43":197},
      {"dem":3920,"rt":100,"b43":108},{"dem":3920,"rt":115,"b43":119},{"dem":3920,"rt":130,"b43":138},{"dem":3920,"rt":150,"b43":158},{"dem":3920,"rt":170,"b43":178},{"dem":3920,"rt":190,"b43":198},{"dem":3920,"rt":210,"b43":218},{"dem":3920,"rt":230,"b43":238},{"dem":3920,"rt":250,"b43":258},{"dem":3920,"rt":270,"b43":278},{"dem":3920,"rt":295,"b43":287},
      {"dem":3948,"rt":178,"b43":178},{"dem":3948,"rt":200,"b43":200},{"dem":3948,"rt":220,"b43":220},{"dem":3948,"rt":240,"b43":240},{"dem":3948,"rt":260,"b43":260},{"dem":3948,"rt":280,"b43":280},{"dem":3948,"rt":300,"b43":300},{"dem":3948,"rt":320,"b43":320},{"dem":3948,"rt":334,"b43":334},
      {"dem":3961,"rt":96,"b43":105},{"dem":3961,"rt":110,"b43":115},{"dem":3961,"rt":125,"b43":130},{"dem":3961,"rt":140,"b43":145},{"dem":3961,"rt":154,"b43":154},{"dem":3961,"rt":186,"b43":186},{"dem":3961,"rt":210,"b43":210},{"dem":3961,"rt":235,"b43":235},{"dem":3961,"rt":260,"b43":260},{"dem":3961,"rt":285,"b43":285},{"dem":3961,"rt":310,"b43":310},{"dem":3961,"rt":334,"b43":334},{"dem":3961,"rt":350,"b43":350},{"dem":3961,"rt":375,"b43":375},{"dem":3961,"rt":400,"b43":400},{"dem":3961,"rt":425,"b43":425},{"dem":3961,"rt":450,"b43":450},{"dem":3961,"rt":475,"b43":468},{"dem":3961,"rt":490,"b43":470},{"dem":3961,"rt":510,"b43":475},
      {"dem":2759,"rt":8,"b43":16},{"dem":2759,"rt":26,"b43":34},{"dem":2759,"rt":45,"b43":53},{"dem":2759,"rt":63,"b43":71},{"dem":2759,"rt":82,"b43":90},{"dem":2759,"rt":100,"b43":108},
      {"dem":2773,"rt":10,"b43":18},{"dem":2773,"rt":29,"b43":37},{"dem":2773,"rt":48,"b43":56},{"dem":2773,"rt":67,"b43":75},{"dem":2773,"rt":86,"b43":94},{"dem":2773,"rt":105,"b43":113},
      {"dem":2788,"rt":10,"b43":18},{"dem":2788,"rt":30,"b43":38},{"dem":2788,"rt":50,"b43":58},{"dem":2788,"rt":70,"b43":78},{"dem":2788,"rt":90,"b43":98},{"dem":2788,"rt":110,"b43":118},
      {"dem":2803,"rt":12,"b43":20},{"dem":2803,"rt":33,"b43":41},{"dem":2803,"rt":53,"b43":61},{"dem":2803,"rt":74,"b43":82},{"dem":2803,"rt":94,"b43":102},{"dem":2803,"rt":115,"b43":123},
      {"dem":2817,"rt":12,"b43":20},{"dem":2817,"rt":34,"b43":42},{"dem":2817,"rt":55,"b43":63},{"dem":2817,"rt":77,"b43":85},{"dem":2817,"rt":98,"b43":106},{"dem":2817,"rt":120,"b43":128},
      {"dem":2832,"rt":14,"b43":22},{"dem":2832,"rt":36,"b43":44},{"dem":2832,"rt":58,"b43":66},{"dem":2832,"rt":81,"b43":89},{"dem":2832,"rt":103,"b43":111},{"dem":2832,"rt":125,"b43":133},
      {"dem":2847,"rt":16,"b43":24},{"dem":2847,"rt":39,"b43":47},{"dem":2847,"rt":62,"b43":70},{"dem":2847,"rt":84,"b43":92},{"dem":2847,"rt":107,"b43":115},{"dem":2847,"rt":130,"b43":138},
      {"dem":2862,"rt":18,"b43":26},{"dem":2862,"rt":40,"b43":48},{"dem":2862,"rt":63,"b43":71},{"dem":2862,"rt":85,"b43":93},{"dem":2862,"rt":108,"b43":116},{"dem":2862,"rt":130,"b43":138},
      {"dem":2877,"rt":20,"b43":28},{"dem":2877,"rt":42,"b43":50},{"dem":2877,"rt":64,"b43":72},{"dem":2877,"rt":86,"b43":94},{"dem":2877,"rt":108,"b43":116},{"dem":2877,"rt":130,"b43":138},
      {"dem":2891,"rt":22,"b43":30},{"dem":2891,"rt":43,"b43":51},{"dem":2891,"rt":63,"b43":71},{"dem":2891,"rt":84,"b43":92},{"dem":2891,"rt":104,"b43":112},{"dem":2891,"rt":125,"b43":133},
      {"dem":2905,"rt":25,"b43":33},{"dem":2905,"rt":44,"b43":52},{"dem":2905,"rt":63,"b43":71},{"dem":2905,"rt":82,"b43":90},{"dem":2905,"rt":101,"b43":109},{"dem":2905,"rt":120,"b43":128},
      {"dem":2919,"rt":26,"b43":34},{"dem":2919,"rt":43,"b43":51},{"dem":2919,"rt":60,"b43":68},{"dem":2919,"rt":76,"b43":84},{"dem":2919,"rt":93,"b43":101},{"dem":2919,"rt":110,"b43":118},
      {"dem":2933,"rt":28,"b43":36},{"dem":2933,"rt":42,"b43":50},{"dem":2933,"rt":57,"b43":65},{"dem":2933,"rt":71,"b43":79},{"dem":2933,"rt":86,"b43":94},{"dem":2933,"rt":100,"b43":108},
      {"dem":2965,"rt":30,"b43":38},{"dem":2965,"rt":44,"b43":52},{"dem":2965,"rt":58,"b43":66},{"dem":2965,"rt":72,"b43":80},{"dem":2965,"rt":86,"b43":94},{"dem":2965,"rt":100,"b43":108},
      {"dem":2980,"rt":32,"b43":40},{"dem":2980,"rt":47,"b43":55},{"dem":2980,"rt":61,"b43":69},{"dem":2980,"rt":76,"b43":84},{"dem":2980,"rt":90,"b43":98},{"dem":2980,"rt":105,"b43":113},
      {"dem":2997,"rt":32,"b43":40},{"dem":2997,"rt":48,"b43":56},{"dem":2997,"rt":63,"b43":71},{"dem":2997,"rt":79,"b43":87},{"dem":2997,"rt":94,"b43":102},{"dem":2997,"rt":110,"b43":118},
      {"dem":3012,"rt":30,"b43":38},{"dem":3012,"rt":47,"b43":55},{"dem":3012,"rt":64,"b43":72},{"dem":3012,"rt":81,"b43":89},{"dem":3012,"rt":98,"b43":106},{"dem":3012,"rt":115,"b43":123},
      {"dem":3027,"rt":30,"b43":38},{"dem":3027,"rt":47,"b43":55},{"dem":3027,"rt":64,"b43":72},{"dem":3027,"rt":81,"b43":89},{"dem":3027,"rt":98,"b43":106},{"dem":3027,"rt":115,"b43":123},
      {"dem":3042,"rt":30,"b43":38},{"dem":3042,"rt":47,"b43":55},{"dem":3042,"rt":64,"b43":72},{"dem":3042,"rt":81,"b43":89},{"dem":3042,"rt":98,"b43":106},{"dem":3042,"rt":115,"b43":123},
      {"dem":3057,"rt":28,"b43":36},{"dem":3057,"rt":44,"b43":52},{"dem":3057,"rt":61,"b43":69},{"dem":3057,"rt":77,"b43":85},{"dem":3057,"rt":94,"b43":102},{"dem":3057,"rt":110,"b43":118},
      {"dem":3072,"rt":26,"b43":34},{"dem":3072,"rt":43,"b43":51},{"dem":3072,"rt":60,"b43":68},{"dem":3072,"rt":76,"b43":84},{"dem":3072,"rt":93,"b43":101},{"dem":3072,"rt":110,"b43":118},
      {"dem":3089,"rt":28,"b43":36},{"dem":3089,"rt":45,"b43":53},{"dem":3089,"rt":63,"b43":71},{"dem":3089,"rt":80,"b43":88},{"dem":3089,"rt":98,"b43":106},{"dem":3089,"rt":115,"b43":123},
      {"dem":3105,"rt":32,"b43":40},{"dem":3105,"rt":49,"b43":57},{"dem":3105,"rt":65,"b43":73},{"dem":3105,"rt":82,"b43":90},{"dem":3105,"rt":98,"b43":106},{"dem":3105,"rt":115,"b43":123},
      {"dem":3120,"rt":36,"b43":44},{"dem":3120,"rt":53,"b43":61},{"dem":3120,"rt":70,"b43":78},{"dem":3120,"rt":86,"b43":94},{"dem":3120,"rt":103,"b43":111},{"dem":3120,"rt":120,"b43":128},
      {"dem":3137,"rt":38,"b43":46},{"dem":3137,"rt":55,"b43":63},{"dem":3137,"rt":73,"b43":81},{"dem":3137,"rt":90,"b43":98},{"dem":3137,"rt":108,"b43":116},{"dem":3137,"rt":125,"b43":133},
      {"dem":3162,"rt":40,"b43":48},{"dem":3162,"rt":57,"b43":65},{"dem":3162,"rt":74,"b43":82},{"dem":3162,"rt":91,"b43":99},{"dem":3162,"rt":108,"b43":116},{"dem":3162,"rt":125,"b43":133},
      {"dem":3180,"rt":40,"b43":48},{"dem":3180,"rt":58,"b43":66},{"dem":3180,"rt":76,"b43":84},{"dem":3180,"rt":94,"b43":102},{"dem":3180,"rt":112,"b43":120},{"dem":3180,"rt":130,"b43":138},
      {"dem":3197,"rt":42,"b43":50},{"dem":3197,"rt":61,"b43":69},{"dem":3197,"rt":79,"b43":87},{"dem":3197,"rt":98,"b43":106},{"dem":3197,"rt":116,"b43":124},{"dem":3197,"rt":135,"b43":143},
      {"dem":3213,"rt":44,"b43":52},{"dem":3213,"rt":62,"b43":70},{"dem":3213,"rt":80,"b43":88},{"dem":3213,"rt":99,"b43":107},{"dem":3213,"rt":117,"b43":125},{"dem":3213,"rt":135,"b43":143},
      {"dem":3231,"rt":46,"b43":54},{"dem":3231,"rt":65,"b43":73},{"dem":3231,"rt":84,"b43":92},{"dem":3231,"rt":102,"b43":110},{"dem":3231,"rt":121,"b43":129},{"dem":3231,"rt":140,"b43":148},
      {"dem":3248,"rt":48,"b43":56},{"dem":3248,"rt":66,"b43":74},{"dem":3248,"rt":85,"b43":93},{"dem":3248,"rt":103,"b43":111},{"dem":3248,"rt":122,"b43":130},{"dem":3248,"rt":140,"b43":148},
      {"dem":3273,"rt":50,"b43":58},{"dem":3273,"rt":68,"b43":76},{"dem":3273,"rt":86,"b43":94},{"dem":3273,"rt":104,"b43":112},{"dem":3273,"rt":122,"b43":130},{"dem":3273,"rt":140,"b43":148},
      {"dem":3290,"rt":50,"b43":58},{"dem":3290,"rt":68,"b43":76},{"dem":3290,"rt":86,"b43":94},{"dem":3290,"rt":104,"b43":112},{"dem":3290,"rt":122,"b43":130},{"dem":3290,"rt":140,"b43":148},
      {"dem":3310,"rt":48,"b43":56},{"dem":3310,"rt":65,"b43":73},{"dem":3310,"rt":83,"b43":91},{"dem":3310,"rt":100,"b43":108},{"dem":3310,"rt":118,"b43":126},{"dem":3310,"rt":135,"b43":143},
      {"dem":3327,"rt":52,"b43":60},{"dem":3327,"rt":68,"b43":76},{"dem":3327,"rt":83,"b43":91},{"dem":3327,"rt":99,"b43":107},{"dem":3327,"rt":114,"b43":122},{"dem":3327,"rt":130,"b43":138},
      {"dem":3344,"rt":56,"b43":64},{"dem":3344,"rt":70,"b43":78},{"dem":3344,"rt":84,"b43":92},{"dem":3344,"rt":97,"b43":105},{"dem":3344,"rt":111,"b43":119},{"dem":3344,"rt":125,"b43":133}
    ]
  },
  "resolve": {
    "scale": {"color": "independent", "fill": "independent", "stroke": "independent"},
    "legend": {"color": "independent", "fill": "independent", "stroke": "independent"}
  },
  "hconcat": [
    {
      "width": 1494,
      "height": 1140,
      "title": {"text": "(a)", "orient": "bottom", "anchor": "middle", "fontSize": 86, "fontWeight": "bold", "font": "Liberation Serif", "color": "black", "offset": 90, "dx": -91},
      "layer": [
        {
          "data": {"name": "pem"},
          "mark": {"type": "rect"},
          "encoding": {
            "x": {"field": "dem", "type": "quantitative", "title": "DEM (m)", "scale": {"domain": [2670, 4070], "nice": false, "zero": false}, "axis": {"values": [2670, 2870, 3070, 3270, 3470, 3670, 3870, 4070], "format": "d", "titleX": 725}},
            "x2": {"field": "dem2"},
            "y": {"field": "lo", "type": "quantitative", "title": "Precipitation\u00a0 (mm)", "scale": {"domain": [0, 700], "nice": false}, "axis": {"values": [0, 100, 200, 300, 400, 500, 600, 700], "titleY": 646}},
            "y2": {"field": "hi"},
            "fill": {"datum": "PEM", "type": "nominal", "scale": {"domain": ["PEM"], "range": ["#d9514e"]}, "legend": {"legendX": 103}}
          }
        },
        {
          "data": {"name": "edge"},
          "mark": {"type": "rule", "color": "#f3b6b5", "strokeWidth": 2},
          "encoding": {
            "x": {"field": "dem", "type": "quantitative", "title": "DEM (m)"},
            "y": {"field": "lo", "type": "quantitative", "title": "Precipitation\u00a0 (mm)"},
            "y2": {"field": "hi"}
          }
        },
        {
          "data": {"name": "a"},
          "mark": {"type": "point", "shape": "triangle-up", "filled": false, "size": 1050, "strokeWidth": 6, "opacity": 1},
          "encoding": {
            "x": {"field": "dem", "type": "quantitative", "title": "DEM (m)"},
            "y": {"field": "rt", "type": "quantitative", "title": "Precipitation\u00a0 (mm)"},
            "stroke": {"datum": "Corrected 3B42RT", "type": "nominal", "scale": {"domain": ["Corrected 3B42RT"], "range": ["#0070c0"]}, "legend": {"legendX": 344}}
          }
        },
        {
          "data": {"name": "a"},
          "mark": {"type": "point", "shape": "M-1,-0.29H1V0.29H-1Z M-0.29,-1H0.29V1H-0.29Z", "filled": true, "size": 1150, "opacity": 1},
          "encoding": {
            "x": {"field": "dem", "type": "quantitative", "title": "DEM (m)"},
            "y": {"field": "b43", "type": "quantitative", "title": "Precipitation\u00a0 (mm)"},
            "color": {"datum": "Corrected 3B43", "type": "nominal", "scale": {"domain": ["Corrected 3B43"], "range": ["#00b050"]}, "legend": {"legendX": 966}}
          }
        },
        {
          "data": {"values": [{"dem": 3003, "p": 537, "label": "CR_3B42RT = 75%"}, {"dem": 3003, "p": 491, "label": "CR_3B43 = 73%"}]},
          "mark": {"type": "text", "font": "Liberation Serif", "fontSize": 69, "color": "black", "align": "center", "baseline": "middle"},
          "encoding": {
            "x": {"field": "dem", "type": "quantitative", "title": "DEM (m)"},
            "y": {"field": "p", "type": "quantitative", "title": "Precipitation\u00a0 (mm)"},
            "text": {"field": "label"}
          }
        }
      ]
    },
    {
      "width": 1497,
      "height": 1140,
      "title": {"text": "(b)", "orient": "bottom", "anchor": "middle", "fontSize": 86, "fontWeight": "bold", "font": "Liberation Serif", "color": "black", "offset": 90, "dx": -92},
      "layer": [
        {
          "data": {"name": "pem"},
          "mark": {"type": "rect"},
          "encoding": {
            "x": {"field": "dem", "type": "quantitative", "title": "DEM (m)", "scale": {"domain": [2670, 4070], "nice": false, "zero": false}, "axis": {"values": [2670, 2870, 3070, 3270, 3470, 3670, 3870, 4070], "format": "d", "titleX": 721}},
            "x2": {"field": "dem2"},
            "y": {"field": "lo", "type": "quantitative", "title": "Precipitation\u00a0 (mm)", "scale": {"domain": [0, 700], "nice": false}, "axis": {"values": [0, 100, 200, 300, 400, 500, 600, 700], "titleY": 650}},
            "y2": {"field": "hi"},
            "fill": {"datum": "PEM", "type": "nominal", "scale": {"domain": ["PEM"], "range": ["#d9514e"]}, "legend": {"legendX": 101}}
          }
        },
        {
          "data": {"name": "edge"},
          "mark": {"type": "rule", "color": "#f3b6b5", "strokeWidth": 2},
          "encoding": {
            "x": {"field": "dem", "type": "quantitative", "title": "DEM (m)"},
            "y": {"field": "lo", "type": "quantitative", "title": "Precipitation\u00a0 (mm)"},
            "y2": {"field": "hi"}
          }
        },
        {
          "data": {"name": "b"},
          "mark": {"type": "point", "shape": "triangle-up", "filled": false, "size": 1050, "strokeWidth": 6, "opacity": 1},
          "encoding": {
            "x": {"field": "dem", "type": "quantitative", "title": "DEM (m)"},
            "y": {"field": "rt", "type": "quantitative", "title": "Precipitation\u00a0 (mm)"},
            "stroke": {"datum": "Corrected 3B42RT", "type": "nominal", "scale": {"domain": ["Corrected 3B42RT"], "range": ["#ffc000"]}, "legend": {"legendX": 330}}
          }
        },
        {
          "data": {"name": "b"},
          "mark": {"type": "point", "shape": "M-1,-0.29H1V0.29H-1Z M-0.29,-1H0.29V1H-0.29Z", "filled": true, "size": 1150, "opacity": 1},
          "encoding": {
            "x": {"field": "dem", "type": "quantitative", "title": "DEM (m)"},
            "y": {"field": "b43", "type": "quantitative", "title": "Precipitation\u00a0 (mm)"},
            "color": {"datum": "Corrected 3B43", "type": "nominal", "scale": {"domain": ["Corrected 3B43"], "range": ["#00b050"]}, "legend": {"legendX": 940}}
          }
        },
        {
          "data": {"values": [{"dem": 3018, "p": 541, "label": "CR_3B42RT = 41%"}, {"dem": 3016, "p": 493, "label": "CR_3B43 =42%"}]},
          "mark": {"type": "text", "font": "Liberation Serif", "fontSize": 69, "color": "black", "align": "center", "baseline": "middle"},
          "encoding": {
            "x": {"field": "dem", "type": "quantitative", "title": "DEM (m)"},
            "y": {"field": "p", "type": "quantitative", "title": "Precipitation\u00a0 (mm)"},
            "text": {"field": "label"}
          }
        }
      ]
    }
  ]
}
